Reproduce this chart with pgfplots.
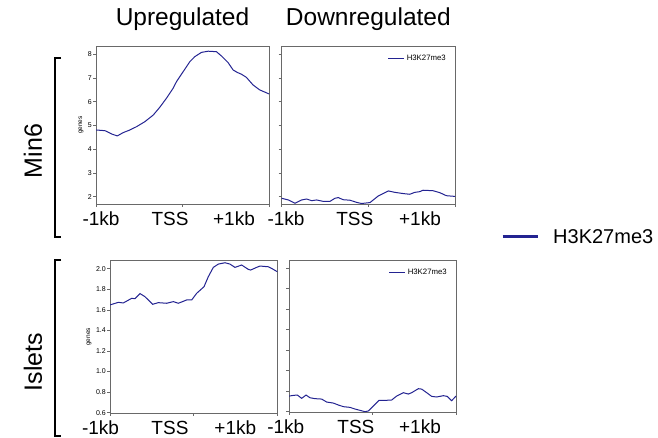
\documentclass[border=0pt]{standalone}
\usepackage{pgfplots}
\usepackage{pgfplotstable}
\pgfplotsset{compat=1.18}
\usepackage{fontspec}
\setmainfont{Liberation Sans}
\definecolor{lineblue}{RGB}{35,35,145}
\definecolor{framegray}{RGB}{105,105,105}

\pgfplotstableread{
x y
-1000 4.81
-896 4.78
-819 4.64
-754 4.56
-685 4.70
-608 4.81
-531 4.95
-435 5.16
-338 5.44
-262 5.77
-185 6.15
-108 6.57
-69 6.85
8 7.27
85 7.69
142 7.90
219 8.08
296 8.13
392 8.11
450 7.93
527 7.65
585 7.34
631 7.24
681 7.16
738 7.03
815 6.71
892 6.50
1000 6.33
}\minup

\pgfplotstableread{
x y
-1000 1.93
-923 1.86
-846 1.72
-770 1.86
-712 1.90
-654 1.83
-597 1.86
-520 1.80
-443 1.80
-386 1.93
-347 1.96
-290 1.87
-213 1.85
-136 1.76
-79 1.71
19 1.75
115 2.03
230 2.24
307 2.18
401 2.13
478 2.10
535 2.18
593 2.21
631 2.27
746 2.25
823 2.17
900 2.04
1000 2.01
}\mindown

\pgfplotstableread{
x y
-1000 1.648
-900 1.673
-841 1.667
-741 1.712
-701 1.709
-641 1.758
-582 1.728
-490 1.654
-422 1.670
-323 1.664
-243 1.680
-183 1.664
-84 1.696
-24 1.696
36 1.761
124 1.825
175 1.922
235 2.013
295 2.045
375 2.058
434 2.045
494 2.013
574 2.036
653 1.994
681 1.987
753 2.013
793 2.026
892 2.019
932 2.003
1000 1.971
}\isup

\pgfplotstableread{
x y
-1000 0.752
-948 0.759
-900 0.762
-848 0.730
-796 0.762
-749 0.736
-689 0.727
-609 0.723
-549 0.694
-469 0.684
-409 0.665
-349 0.649
-269 0.642
-210 0.626
-150 0.613
-90 0.600
-50 0.607
10 0.655
78 0.710
150 0.710
230 0.714
289 0.752
369 0.785
429 0.772
469 0.785
549 0.824
589 0.820
649 0.785
709 0.749
768 0.743
848 0.756
896 0.749
948 0.707
1000 0.752
}\isdown

\newcommand{\tl}[2]{\makebox[0pt]{\hspace*{#1}#2}}

\pgfplotsset{
  panel/.style={
    scale only axis,
    anchor=south west,
    xmin=-1000, xmax=1000,
    axis line style={framegray, line width=0.7pt},
    tick align=outside,
    major tick length=3pt,
    tick style={framegray, line width=0.6pt},
    xtick={-1000,0,1000},
    xtick pos=bottom, ytick pos=left,
    /pgf/number format/assume math mode=true,
    yticklabel style={font=\fontsize{7}{8}\selectfont, inner sep=1pt},
    xticklabel style={font=\fontsize{19}{20}\selectfont, inner sep=0pt, yshift=-5pt},
    title style={font=\fontsize{24.5}{26}\selectfont, anchor=base, yshift=14pt},
    ylabel style={font=\fontsize{6.5}{7}\selectfont},
    legend style={at={(1,1)}, anchor=north east, xshift=-4pt, yshift=-5pt,
      draw=none, fill=none, font=\fontsize{7.8}{8}\selectfont},
    legend image code/.code={\draw[#1] (0pt,0pt)--(16pt,0pt);},
  },
  curve/.style={lineblue, line width=1pt, no markers},
}

\begin{document}
\begin{tikzpicture}[x=1pt,y=1pt]
\useasboundingbox (0,0) rectangle (658,438);

% Min6 upregulated
\begin{axis}[panel, at={(96pt,234pt)}, width=173pt, height=158pt,
  ymin=1.69, ymax=8.35, ytick={2,3,4,5,6,7,8},
  ylabel={genes}, title={Upregulated},
  xticklabels={\tl{10pt}{-1kb}, \tl{-25pt}{TSS}, \tl{-70pt}{+1kb}}]
\addplot[curve] table[x=x,y=y] {\minup};
\end{axis}

% Min6 downregulated
\begin{axis}[panel, at={(281.7pt,234pt)}, width=173.3pt, height=158pt,
  ymin=1.69, ymax=8.35, ytick={2,3,4,5,6,7,8}, yticklabels={},
  title={Downregulated},
  xticklabels={\tl{8.6pt}{-1kb}, \tl{-27pt}{TSS}, \tl{-70pt}{+1kb}}]
\addplot[curve] table[x=x,y=y] {\mindown};
\addlegendentry{H3K27me3}
\end{axis}

% Islets upregulated
\begin{axis}[panel, at={(110pt,25pt)}, width=167.3pt, height=152.3pt,
  ymin=0.597, ymax=2.078, ytick={0.6,0.8,1.0,1.2,1.4,1.6,1.8,2.0},
  yticklabel style={/pgf/number format/fixed, /pgf/number format/fixed zerofill, /pgf/number format/precision=1},
  ylabel={genes},
  xticklabels={\tl{-19pt}{-1kb}, \tl{-47.4pt}{TSS}, \tl{-84pt}{+1kb}}]
\addplot[curve] table[x=x,y=y] {\isup};
\end{axis}

% Islets downregulated
\begin{axis}[panel, at={(289pt,26pt)}, width=167pt, height=152pt,
  ymin=0.597, ymax=2.078, ytick={0.6,0.8,1.0,1.2,1.4,1.6,1.8,2.0}, yticklabels={},
  xticklabels={\tl{-6.4pt}{-1kb}, \tl{-33.2pt}{TSS}, \tl{-72pt}{+1kb}}]
\addplot[curve] table[x=x,y=y] {\isdown};
\addlegendentry{H3K27me3}
\end{axis}

% outer legend
\begin{axis}[at={(0pt,0pt)}, anchor=south west, scale only axis,
  width=658pt, height=438pt, hide axis,
  xmin=0, xmax=658, ymin=0, ymax=438,
  legend style={at={(axis cs:498,201)}, anchor=west, draw=none, fill=none,
    font=\fontsize{20}{22}\selectfont, column sep=12pt},
  legend image code/.code={\draw[#1] (0pt,0pt)--(35pt,0pt);}]
\addlegendimage{lineblue, line width=3pt}
\addlegendentry{H3K27me3}
\end{axis}

% row labels and brackets
\node[rotate=90, font=\fontsize{25}{27}\selectfont] at (33,287) {Min6};
\node[rotate=90, font=\fontsize{25}{27}\selectfont] at (33,76) {Islets};
\draw[line width=1.2pt] (61,380) -- (55,380) -- (55,201) -- (61,201);
\draw[line width=1.2pt] (61,178) -- (55,178) -- (55,2) -- (61,2);
\end{tikzpicture}
\end{document}
